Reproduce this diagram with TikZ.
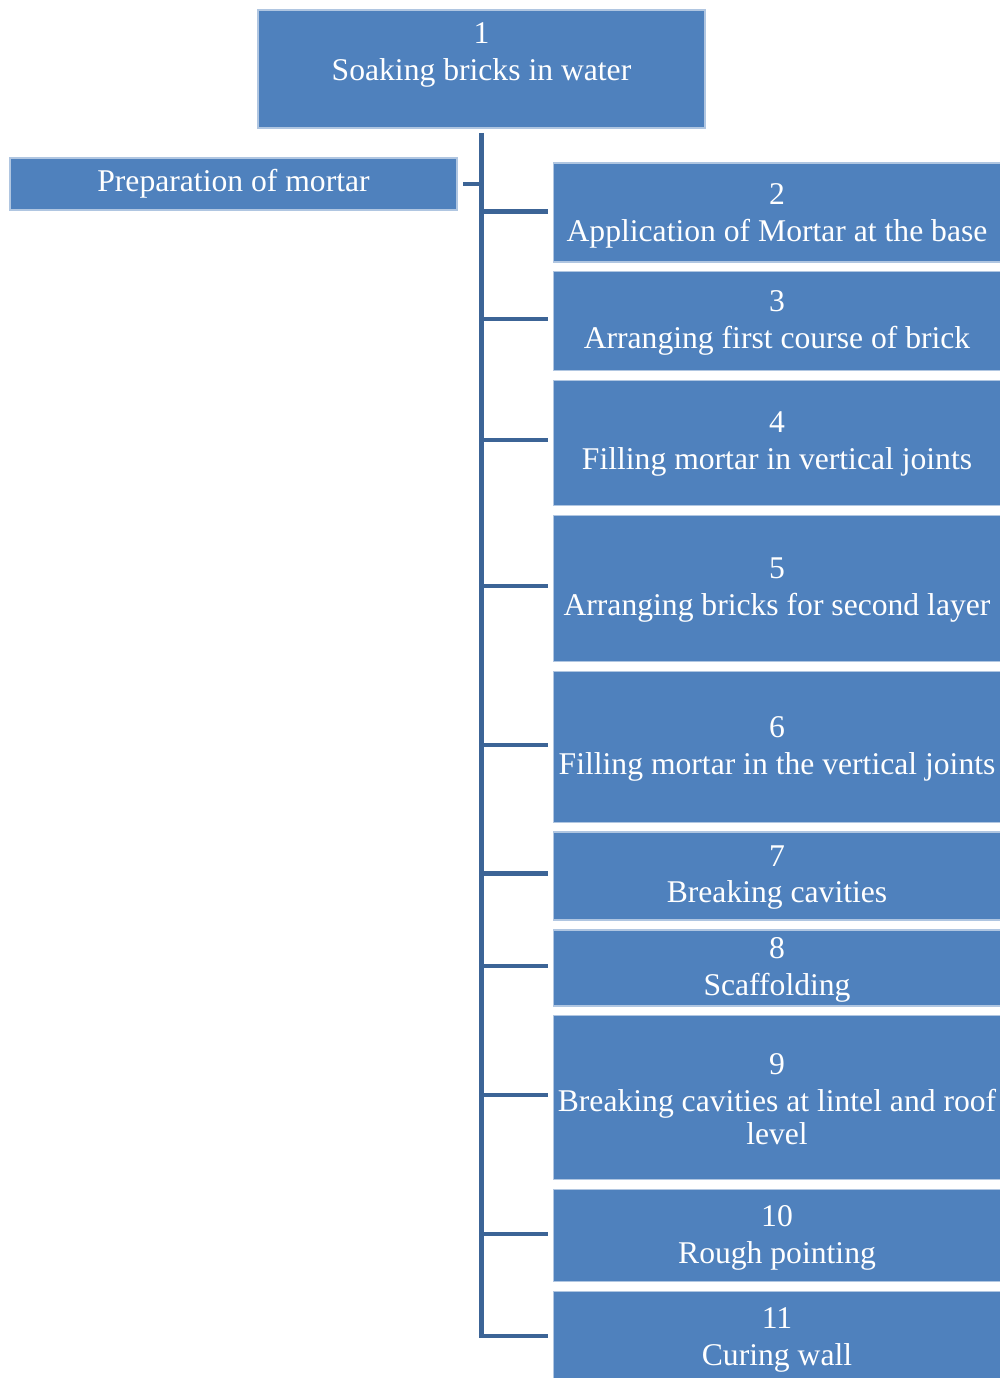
\documentclass[tikz,border=0pt]{standalone}
\usepackage{fontspec}
\setmainfont{Liberation Serif}
\usetikzlibrary{positioning}
\definecolor{stepblue}{RGB}{79,129,189}
\definecolor{linkblue}{RGB}{60,100,150}

\begin{document}
\begin{tikzpicture}[node distance=0.098cm, auto]
    \tikzstyle{stepbox} = [rectangle, minimum width=4.47cm, draw=stepblue!45!white, line width=0.4pt, fill=stepblue, inner sep=0pt, outer sep=0pt, text=white, font=\fontsize{9}{7.8}\selectfont]
    \tikzstyle{steptext} = [align=center, text=white, font=\fontsize{9}{7.8}\selectfont, inner sep=0pt]
    \tikzstyle{link} = [line width=1.2pt, linkblue]

    \useasboundingbox (0,0) rectangle (10,-13.78);

    \node (s1) [stepbox, minimum height=1.18cm] at (4.815,-0.69) {};
    \node (prep) [stepbox, minimum height=0.52cm] at (2.335,-1.84) {Preparation of mortar};

    \node (b2) [stepbox, minimum height=0.99cm, anchor=north] at (7.77,-1.63) {};
    \node (b3) [stepbox, minimum height=0.99cm, below=of b2] {};
    \node (b4) [stepbox, minimum height=1.25cm, below=of b3] {};
    \node (b5) [stepbox, minimum height=1.46cm, below=of b4] {};
    \node (b6) [stepbox, minimum height=1.51cm, below=of b5] {};
    \node (b7) [stepbox, minimum height=0.88cm, below=of b6] {};
    \node (b8) [stepbox, minimum height=0.76cm, below=of b7] {};
    \node (b9) [stepbox, minimum height=1.64cm, below=of b8] {};
    \node (b10) [stepbox, minimum height=0.92cm, below=of b9] {};
    \node (b11) [stepbox, minimum height=0.95cm, below=of b10] {};

    % numbers and step names sit in the upper part of each box
    \node (t1) [steptext] at ([yshift=-0.45cm]s1.north) {1\\[2.7pt]Soaking bricks in water};
    \node (t2) [steptext] at ([yshift=-0.525cm]b2.north) {2\\[2.7pt]Application of Mortar at the base};
    \node (t3) [steptext] at ([yshift=-0.51cm]b3.north) {3\\[2.7pt]Arranging first course of brick};
    \node (t4) [steptext] at ([yshift=-0.635cm]b4.north) {4\\[2.7pt]Filling mortar in vertical joints};
    \node (t5) [steptext] at ([yshift=-0.745cm]b5.north) {5\\[2.7pt]Arranging bricks for second layer};
    \node (t6) [steptext] at ([yshift=-0.78cm]b6.north) {6\\[2.7pt]Filling mortar in the vertical joints};
    \node (t7) [steptext] at ([yshift=-0.455cm]b7.north) {7\\[2.7pt]Breaking cavities};
    \node (t8) [steptext] at ([yshift=-0.405cm]b8.north) {8\\[2.7pt]Scaffolding};
    \node (t9) [steptext] at ([yshift=-0.835cm]b9.north) {9\\[2.7pt]Breaking cavities at lintel and roof\\level};
    \node (t10) [steptext] at ([yshift=-0.485cm]b10.north) {10\\[2.7pt]Rough pointing};
    \node (t11) [steptext] at ([yshift=-0.485cm]b11.north) {11\\[2.7pt]Curing wall};

    \draw [link, shorten <=0.06cm] (prep.east) -- (s1.south |- prep.east);
    \foreach \i in {2,...,10}
        \draw [link, shorten >=0.06cm] ([yshift=0.04cm]s1.south |- t\i) -- ([yshift=0.04cm]b\i.west |- t\i);
    \draw [link, shorten <=0.05cm, shorten >=0.06cm] (s1.south) -- ([yshift=0.04cm]s1.south |- t11) -- ([yshift=0.04cm]b11.west |- t11);
\end{tikzpicture}
\end{document}
